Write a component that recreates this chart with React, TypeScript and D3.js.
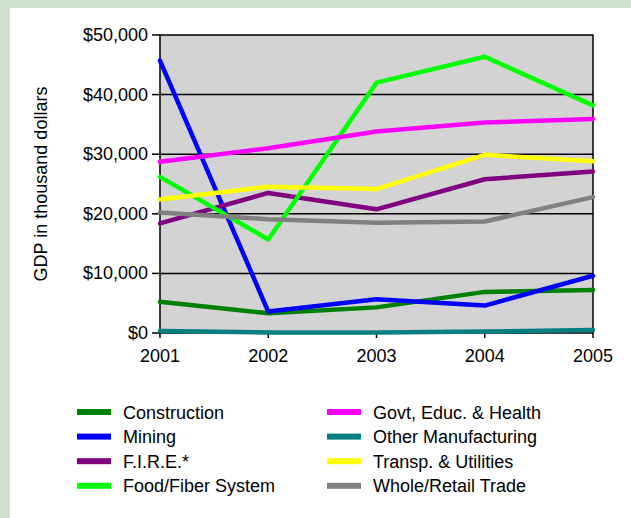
import React, { useEffect, useRef } from 'react';
import * as d3 from 'd3';

const years = ['2001', '2002', '2003', '2004', '2005'];
const yTicks = [0, 10000, 20000, 30000, 40000, 50000];

const construction = [5250, 3300, 4300, 6900, 7200];
const mining = [45700, 3600, 5650, 4600, 9600];
const fire = [18400, 23500, 20750, 25800, 27100];
const foodFiber = [26200, 15700, 42000, 46350, 38200];
const govt = [28750, 31000, 33800, 35300, 35900];
const otherMfg = [330, 80, 80, 250, 500];
const transp = [22400, 24550, 24150, 29900, 28800];
const wholeRetail = [20200, 19100, 18500, 18700, 22800];

const seriesNames = [
  'Construction',
  'Mining',
  'F.I.R.E.*',
  'Food/Fiber System',
  'Govt, Educ. & Health',
  'Other Manufacturing',
  'Transp. & Utilities',
  'Whole/Retail Trade',
];
const seriesColors = ['#008000', '#0000ff', '#800080', '#00ff00', '#ff00ff', '#008080', '#ffff00', '#808080'];
const seriesValues = [construction, mining, fire, foodFiber, govt, otherMfg, transp, wholeRetail];

const W = 631;
const H = 518;

export default function App() {
  const svgRef = useRef<SVGSVGElement>(null);

  useEffect(() => {
    const svg = d3.select(svgRef.current);
    svg.selectAll('*').remove();

    const font = 'Arial, "Liberation Sans", sans-serif';
    const left = 160, right = 593, top = 35, bottom = 333;

    // background
    svg.append('rect').attr('width', W).attr('height', H).attr('fill', '#cfe3d0');
    svg.append('rect').attr('x', 10).attr('y', 8).attr('width', W - 10).attr('height', H - 8).attr('fill', '#ffffff');

    const x = d3.scalePoint<string>().domain(years).range([left, right]);
    const y = d3.scaleLinear().domain([0, 50000]).range([bottom, top]);

    svg.append('rect')
      .attr('x', left).attr('y', top)
      .attr('width', right - left).attr('height', bottom - top)
      .attr('fill', '#d3d3d3');

    // gridlines
    svg.append('g')
      .selectAll('line')
      .data(yTicks.slice(1, -1))
      .enter()
      .append('line')
      .attr('x1', left).attr('x2', right)
      .attr('y1', d => y(d)).attr('y2', d => y(d))
      .attr('stroke', '#000').attr('stroke-width', 1.5);

    // border
    svg.append('rect')
      .attr('x', left).attr('y', top)
      .attr('width', right - left).attr('height', bottom - top)
      .attr('fill', 'none').attr('stroke', '#000').attr('stroke-width', 1.5);

    // y ticks + labels
    const fmt = d3.format(',');
    const yg = svg.append('g');
    yg.selectAll('line')
      .data(yTicks)
      .enter()
      .append('line')
      .attr('x1', left - 8).attr('x2', left)
      .attr('y1', d => y(d)).attr('y2', d => y(d))
      .attr('stroke', '#000').attr('stroke-width', 1.5);
    yg.selectAll('text')
      .data(yTicks)
      .enter()
      .append('text')
      .attr('x', left - 12)
      .attr('y', d => y(d) + 6)
      .attr('text-anchor', 'end')
      .style('font-family', font)
      .style('font-size', '18px')
      .attr('fill', '#000')
      .text(d => '$' + fmt(d));

    // x ticks + labels
    const xg = svg.append('g');
    xg.selectAll('line')
      .data(years)
      .enter()
      .append('line')
      .attr('x1', d => x(d)!).attr('x2', d => x(d)!)
      .attr('y1', bottom).attr('y2', bottom + 5)
      .attr('stroke', '#000').attr('stroke-width', 1.5);
    xg.selectAll('text')
      .data(years)
      .enter()
      .append('text')
      .attr('x', d => x(d)!)
      .attr('y', 362)
      .attr('text-anchor', 'middle')
      .style('font-family', font)
      .style('font-size', '18px')
      .attr('fill', '#000')
      .text(d => d);

    // y title
    svg.append('text')
      .attr('transform', `translate(47,${(top + bottom) / 2}) rotate(-90)`)
      .attr('text-anchor', 'middle')
      .style('font-family', font)
      .style('font-size', '18px')
      .attr('fill', '#000')
      .text('GDP in thousand dollars');

    // lines
    const line = d3.line<number>()
      .x((_, i) => x(years[i])!)
      .y(d => y(d));

    svg.append('g')
      .selectAll('path')
      .data(seriesValues)
      .enter()
      .append('path')
      .attr('d', d => line(d))
      .attr('fill', 'none')
      .attr('stroke', (_, i) => seriesColors[i])
      .attr('stroke-width', 4.5)
      .attr('stroke-linecap', 'round')
      .attr('stroke-linejoin', 'round');

    // legend
    const legend = svg.append('g');
    const items = legend.selectAll('g')
      .data(seriesNames)
      .enter()
      .append('g')
      .attr('transform', (_, i) => {
        const col = Math.floor(i / 4);
        const row = i % 4;
        return `translate(${col === 0 ? 77 : 327},${412 + row * 24.6})`;
      });
    items.append('rect')
      .attr('x', 0).attr('y', -3)
      .attr('width', 34).attr('height', 6)
      .attr('fill', (_, i) => seriesColors[i]);
    items.append('text')
      .attr('x', 46).attr('y', 6.5)
      .style('font-family', font)
      .style('font-size', '18px')
      .attr('fill', '#000')
      .text(d => d);
  }, []);

  return (
    <div style={{ position: 'fixed', left: 0, top: 0, width: W, height: H }}>
      <svg ref={svgRef} width={W} height={H} style={{ display: 'block' }} />
    </div>
  );
}
